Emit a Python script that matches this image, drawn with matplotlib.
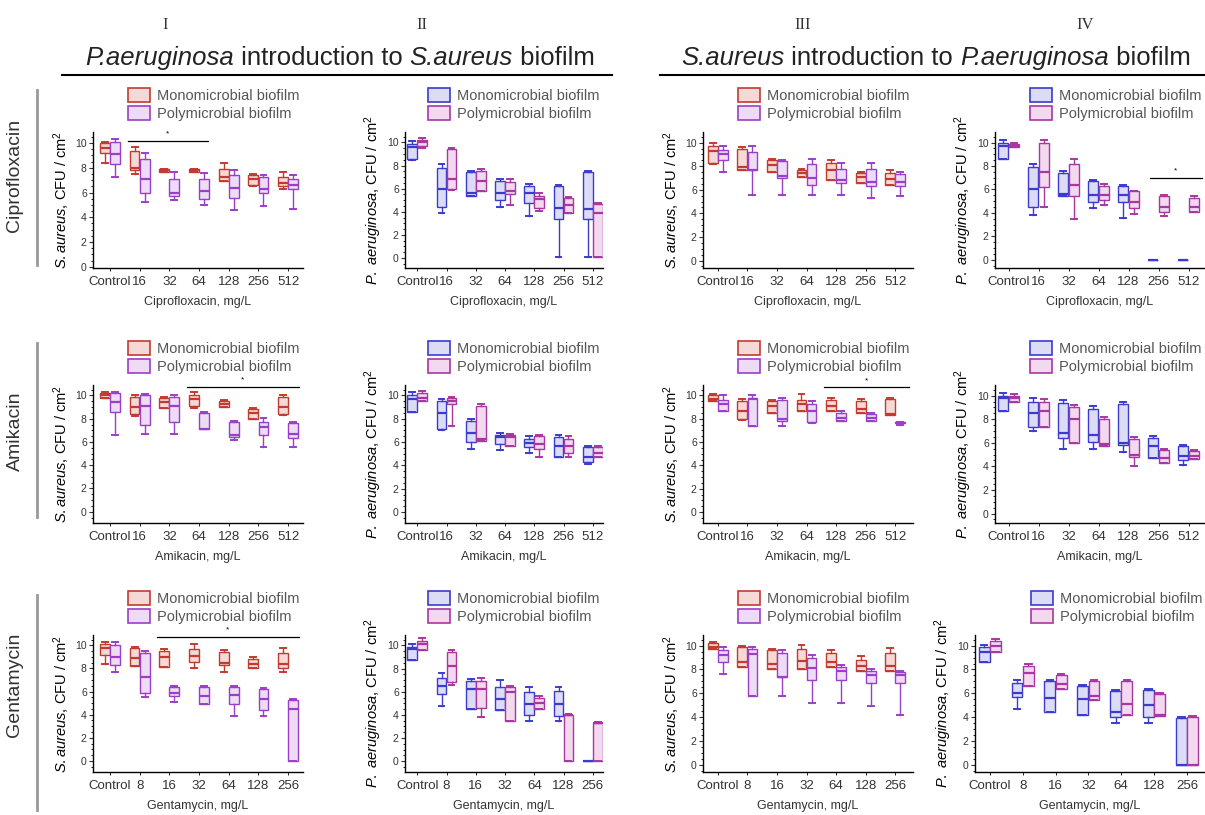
import matplotlib
matplotlib.use("Agg")
import matplotlib.pyplot as plt
from matplotlib.patches import Patch
from matplotlib.ticker import MultipleLocator

plt.rcParams['font.family'] = ['Liberation Sans', 'DejaVu Sans']
plt.rcParams['mathtext.fontset'] = 'custom'
plt.rcParams['mathtext.rm'] = 'Liberation Sans'
plt.rcParams['mathtext.it'] = 'Liberation Sans:italic'

# ---------------- data: [min, q1, median, q3, max] per concentration ----------------
cats_cip = ["Control", "16", "32", "64", "128", "256", "512"]
cats_ami = ["Control", "16", "32", "64", "128", "256", "512"]
cats_gen = ["Control", "8", "16", "32", "64", "128", "256"]

# Ciprofloxacin
cip_I_mono = [[8.4, 9.2, 9.6, 10.0, 10.1], [7.5, 7.8, 8.0, 9.4, 9.7], [7.7, 7.7, 7.8, 7.9, 7.9],
              [7.7, 7.7, 7.8, 7.9, 7.9], [6.9, 6.9, 7.3, 7.9, 8.4], [6.5, 6.6, 7.1, 7.4, 7.5],
              [6.3, 6.5, 6.8, 7.3, 7.7]]
cip_I_poly = [[7.3, 8.3, 9.1, 10.1, 10.3], [5.2, 6.0, 7.1, 8.7, 9.2], [5.4, 5.7, 6.0, 7.1, 7.7],
              [5.0, 5.5, 6.1, 7.1, 7.6], [4.6, 5.6, 6.4, 7.4, 7.8], [4.9, 6.0, 6.3, 7.3, 7.4],
              [4.7, 6.3, 6.6, 7.1, 7.4]]
cip_II_mono = [[8.5, 8.6, 9.6, 9.9, 10.1], [3.9, 4.4, 6.0, 7.8, 8.1], [5.4, 5.4, 5.6, 7.4, 7.5],
               [4.4, 5.0, 5.6, 6.7, 6.8], [3.6, 4.8, 5.6, 6.2, 6.4], [0.1, 3.4, 4.3, 6.2, 6.3],
               [0.1, 3.4, 4.2, 7.4, 7.5]]
cip_II_poly = [[9.5, 9.7, 10.0, 10.2, 10.4], [5.9, 6.0, 6.8, 9.4, 9.5], [5.8, 5.8, 6.7, 7.5, 7.7],
               [4.6, 5.5, 5.8, 6.6, 6.8], [4.1, 4.3, 5.1, 5.4, 5.6], [3.9, 3.9, 4.6, 5.2, 5.3],
               [0.1, 0.1, 3.9, 4.7, 4.8]]
cip_III_mono = [[8.2, 8.3, 9.3, 9.7, 10.0], [7.7, 7.7, 7.9, 9.5, 9.6], [7.5, 7.5, 8.1, 8.5, 8.6],
                [7.1, 7.1, 7.4, 7.7, 7.8], [6.8, 6.8, 7.7, 8.3, 8.5], [6.6, 6.6, 7.1, 7.4, 7.5],
                [6.4, 6.4, 6.9, 7.4, 7.7]]
cip_III_poly = [[7.5, 8.5, 9.0, 9.4, 9.7], [5.6, 7.7, 7.7, 9.2, 9.7], [5.6, 7.0, 7.2, 8.4, 8.5],
                [5.6, 6.4, 7.0, 8.2, 8.6], [5.6, 6.6, 6.8, 7.8, 8.3], [5.3, 6.3, 6.7, 7.8, 8.3],
                [5.5, 6.3, 6.7, 7.3, 7.5]]
cip_IV_mono = [[8.6, 8.6, 9.7, 10.0, 10.2], [3.8, 4.5, 6.0, 7.9, 8.2], [5.4, 5.4, 5.6, 7.4, 7.6],
               [4.4, 4.9, 5.5, 6.7, 6.8], [3.6, 4.9, 5.5, 6.3, 6.4], [0.0, 0.0, 0.0, 0.0, 0.0],
               [0.0, 0.0, 0.0, 0.0, 0.0]]
cip_IV_poly = [[9.6, 9.6, 9.7, 9.9, 10.0], [4.5, 6.2, 7.5, 10.0, 10.2], [3.5, 5.4, 6.4, 8.2, 8.6],
               [4.7, 5.1, 5.5, 6.3, 6.5], [3.9, 4.4, 4.9, 5.9, 5.9], [3.7, 4.1, 4.5, 5.4, 5.5],
               [4.1, 4.1, 4.5, 5.3, 5.4]]

# Amikacin
ami_I_mono = [[9.8, 9.8, 10.0, 10.2, 10.3], [8.2, 8.4, 9.0, 9.9, 10.0], [8.9, 8.9, 9.4, 9.8, 9.9],
              [8.9, 9.1, 9.7, 10.0, 10.3], [9.0, 9.0, 9.3, 9.5, 9.6], [8.0, 8.0, 8.5, 8.8, 8.9],
              [8.3, 8.4, 9.0, 9.9, 10.0]]
ami_I_poly = [[6.6, 8.6, 9.4, 10.2, 10.3], [6.7, 7.5, 9.1, 10.0, 10.1], [6.7, 7.7, 9.1, 9.9, 10.0],
              [7.1, 7.1, 7.1, 8.5, 8.6], [6.2, 6.4, 6.6, 7.7, 7.8], [5.6, 6.6, 7.3, 7.7, 8.1],
              [5.6, 6.3, 6.7, 7.6, 7.7]]
ami_II_mono = [[8.6, 8.6, 9.7, 10.0, 10.3], [7.0, 7.1, 8.5, 9.5, 9.7], [5.4, 6.0, 6.8, 7.8, 8.0],
               [5.3, 5.8, 6.4, 6.6, 6.8], [5.1, 5.6, 5.9, 6.3, 6.5], [4.7, 4.7, 5.7, 6.4, 6.6],
               [4.1, 4.3, 4.7, 5.6, 5.7]]
ami_II_poly = [[9.5, 9.5, 9.8, 10.2, 10.4], [7.4, 9.3, 9.5, 9.8, 9.9], [6.1, 6.1, 6.3, 9.1, 9.3],
               [5.7, 5.7, 6.4, 6.6, 6.7], [4.7, 5.4, 5.8, 6.5, 6.6], [4.7, 5.1, 5.7, 6.3, 6.5],
               [4.7, 4.7, 5.1, 5.6, 5.7]]
ami_III_mono = [[9.5, 9.5, 9.7, 10.0, 10.1], [7.9, 8.0, 8.7, 9.5, 9.7], [8.5, 8.5, 9.1, 9.5, 9.6],
                [8.7, 8.7, 9.3, 9.6, 10.1], [8.7, 8.7, 9.1, 9.6, 9.8], [8.5, 8.5, 8.8, 9.5, 9.7],
                [8.3, 8.3, 8.4, 9.7, 9.8]]
ami_III_poly = [[8.7, 8.7, 9.3, 9.6, 10.0], [7.4, 7.4, 9.7, 9.8, 10.0], [7.4, 7.8, 8.0, 9.6, 9.8],
                [7.6, 7.7, 8.7, 9.3, 9.5], [7.8, 7.8, 8.1, 8.5, 8.7], [7.8, 7.8, 8.1, 8.4, 8.5],
                [7.5, 7.6, 7.6, 7.7, 7.7]]
ami_IV_mono = [[8.7, 8.7, 9.8, 10.0, 10.2], [7.0, 7.3, 8.5, 9.5, 9.8], [5.5, 6.4, 6.8, 9.4, 9.6],
               [5.5, 6.1, 6.7, 8.9, 9.1], [5.2, 5.8, 6.0, 9.3, 9.5], [4.7, 4.7, 5.7, 6.4, 6.6],
               [4.1, 4.5, 4.9, 5.7, 5.8]]
ami_IV_poly = [[9.5, 9.5, 9.8, 10.0, 10.1], [7.3, 7.3, 8.7, 9.5, 9.7], [6.0, 6.0, 8.0, 9.0, 9.2],
               [5.7, 5.7, 5.9, 8.0, 8.2], [4.0, 4.8, 5.0, 6.3, 6.5], [4.3, 4.3, 4.7, 5.4, 5.5],
               [4.6, 4.6, 4.9, 5.3, 5.4]]

# Gentamycin
gen_I_mono = [[8.4, 9.2, 9.8, 10.1, 10.3], [8.2, 8.2, 8.9, 9.8, 9.9], [8.1, 8.1, 9.0, 9.5, 9.7],
              [8.0, 8.6, 9.1, 9.7, 10.1], [7.7, 8.3, 8.5, 9.4, 9.6], [8.0, 8.0, 8.4, 8.8, 9.0],
              [7.7, 8.0, 8.4, 9.3, 9.8]]
gen_I_poly = [[7.7, 8.3, 9.0, 10.0, 10.3], [5.5, 5.9, 7.3, 9.3, 9.5], [5.1, 5.6, 5.9, 6.4, 6.5],
              [4.9, 4.9, 5.6, 6.4, 6.5], [3.9, 4.9, 5.7, 6.4, 6.5], [3.9, 4.4, 5.4, 6.2, 6.3],
              [0.0, 0.0, 4.5, 5.3, 5.4]]
gen_II_mono = [[8.7, 8.7, 9.7, 9.9, 10.1], [4.8, 5.8, 6.5, 7.2, 7.6], [4.5, 4.5, 6.2, 6.9, 7.1],
               [4.4, 4.4, 5.4, 6.4, 7.0], [3.5, 4.0, 4.9, 6.0, 6.4], [3.5, 3.9, 4.9, 6.1, 6.4],
               [0.0, 0.0, 0.0, 0.0, 0.0]]
gen_II_poly = [[9.6, 9.6, 10.1, 10.4, 10.6], [6.6, 6.8, 8.2, 9.4, 9.6], [3.8, 4.6, 6.2, 6.9, 7.2],
               [3.5, 3.5, 6.0, 6.4, 6.5], [4.5, 4.5, 5.0, 5.5, 5.6], [0.0, 0.0, 4.0, 4.0, 4.1],
               [0.0, 0.0, 3.3, 3.3, 3.4]]
gen_III_mono = [[9.7, 9.7, 9.9, 10.2, 10.3], [8.2, 8.2, 8.6, 9.9, 10.0], [8.0, 8.0, 8.5, 9.6, 9.7],
                [8.0, 8.0, 8.7, 9.7, 10.1], [8.2, 8.2, 8.6, 9.4, 9.6], [7.9, 7.9, 8.3, 8.8, 9.1],
                [7.9, 7.9, 8.3, 9.4, 9.8]]
gen_III_poly = [[7.6, 8.6, 9.2, 9.6, 9.9], [5.8, 5.8, 9.3, 9.7, 9.9], [5.8, 7.4, 7.4, 9.4, 9.6],
                [5.2, 7.1, 8.1, 9.0, 9.2], [5.2, 7.1, 7.9, 8.2, 8.4], [4.9, 6.9, 7.5, 7.9, 8.0],
                [4.2, 6.9, 7.5, 7.8, 7.9]]
gen_IV_mono = [[8.6, 8.6, 9.5, 9.9, 10.1], [4.7, 5.7, 6.0, 6.9, 7.1], [4.4, 4.4, 5.6, 7.0, 7.1],
               [4.2, 4.2, 5.5, 6.6, 6.7], [3.5, 4.0, 4.4, 6.2, 6.3], [3.5, 4.0, 5.0, 6.3, 6.4],
               [0.0, 0.0, 0.0, 3.9, 4.0]]
gen_IV_poly = [[9.5, 9.5, 10.0, 10.4, 10.6], [6.6, 6.6, 7.7, 8.3, 8.5], [6.4, 6.4, 6.8, 7.5, 7.6],
               [5.4, 5.4, 5.8, 7.0, 7.1], [4.2, 4.2, 5.1, 7.0, 7.1], [4.1, 4.1, 4.2, 5.9, 6.0],
               [0.0, 0.0, 0.0, 4.0, 4.1]]

row_names = ["Ciprofloxacin", "Amikacin", "Gentamycin"]
xlabels = ["Ciprofloxacin, mg/L", "Amikacin, mg/L", "Gentamycin, mg/L"]
row_cats = [cats_cip, cats_ami, cats_gen]
panels = [
    [(cip_I_mono, cip_I_poly), (cip_II_mono, cip_II_poly), (cip_III_mono, cip_III_poly), (cip_IV_mono, cip_IV_poly)],
    [(ami_I_mono, ami_I_poly), (ami_II_mono, ami_II_poly), (ami_III_mono, ami_III_poly), (ami_IV_mono, ami_IV_poly)],
    [(gen_I_mono, gen_I_poly), (gen_II_mono, gen_II_poly), (gen_III_mono, gen_III_poly), (gen_IV_mono, gen_IV_poly)],
]
# significance bars: (row, col) -> (x_start, x_end, y)
sig_bars = {(0, 0): (0.6, 3.3, 10.2), (0, 3): (4.7, 6.45, 7.0),
            (1, 0): (2.6, 6.35, 10.75), (1, 2): (3.6, 6.45, 10.7),
            (2, 0): (1.6, 6.35, 10.75)}

# ---------------- styling ----------------
W, H = 1205, 815
RED, PURPLE, BLUE, MAGENTA = "#c23b32", "#9a3fc8", "#3b3bd0", "#a8379f"
FILL = {RED: "#f5d9d6", PURPLE: "#eedcf7", BLUE: "#dcdcf7", MAGENTA: "#f3d9ef"}
col_colors = [(RED, PURPLE), (BLUE, MAGENTA), (RED, PURPLE), (BLUE, MAGENTA)]
col_sa = [True, False, True, False]
col_x = [(93, 303), (405, 603), (703, 913), (995, 1205)]
col_xlim = [(-0.57, 6.5), (-0.42, 6.35), (-0.5, 6.6), (-0.45, 6.55)]
row_y = [(132, 268), (385, 523), (635, 772)]
ybottom = [[-0.1, -0.86, -0.63, -0.7], [-0.97, -0.94, -0.94, -0.8], [-0.96, -0.93, -0.62, -0.62]]
row_label_y = [175, 431, 685]
row_sep = [(90, 265), (343, 517), (595, 810)]

fig = plt.figure(figsize=(W / 100, H / 100), dpi=100)
renderer = fig.canvas.get_renderer()


def rect(x0, x1, yt, yb):
    return [x0 / W, 1 - yb / H, (x1 - x0) / W, (yb - yt) / H]


def draw_boxes(ax, data, offset, color):
    stats = [dict(whislo=d[0], q1=d[1], med=d[2], q3=d[3], whishi=d[4]) for d in data]
    pos = [i + offset for i in range(len(data))]
    ax.bxp(stats, positions=pos, widths=0.33, showfliers=False, patch_artist=True,
           boxprops=dict(facecolor=FILL[color], edgecolor=color, linewidth=1.0),
           medianprops=dict(color=color, linewidth=1.6),
           whiskerprops=dict(color=color, linewidth=1.0),
           capprops=dict(color=color, linewidth=1.4), capwidths=0.2,
           manage_ticks=False)


def mixed_title(xc, y, pieces, size):
    """Draw a horizontal line of text made of (string, style) pieces centred at xc (pixels)."""
    widths = []
    for s, st in pieces:
        t = fig.text(0, 0, s, fontsize=size, style=st)
        widths.append(t.get_window_extent(renderer).width)
        t.remove()
    x = xc - sum(widths) / 2
    for (s, st), w in zip(pieces, widths):
        fig.text(x / W, 1 - y / H, s, fontsize=size, style=st, ha="left", va="center",
                 color="#222222")
        x += w


for r in range(3):
    for c in range(4):
        x0, x1 = col_x[c]
        if r == 2 and c == 3:
            x0 = 975
        yt, yb = row_y[r]
        ax = fig.add_axes(rect(x0, x1, yt, yb))
        mono, poly = panels[r][c]
        cm, cp = col_colors[c]
        draw_boxes(ax, mono, -0.17, cm)
        draw_boxes(ax, poly, 0.17, cp)
        cats = row_cats[r]
        ax.set_xticks(range(len(cats)))
        ax.set_xticklabels(cats, fontsize=9.5, color="#333333")
        ax.set_xlim(*col_xlim[c])
        ax.set_ylim(ybottom[r][c], 10.9)
        ax.set_yticks([0, 2, 4, 6, 8, 10])
        ax.yaxis.set_minor_locator(MultipleLocator(0.5))
        ax.tick_params(axis='y', labelsize=7.5, length=3, width=0.8, pad=1.5, colors="#333333")
        ax.tick_params(axis='y', which='minor', length=1.5, width=0.6)
        ax.tick_params(axis='x', length=2.5, width=0.6, pad=3)
        for s in ("top", "right"):
            ax.spines[s].set_visible(False)
        for s in ("left", "bottom"):
            ax.spines[s].set_linewidth(1.0)
        ax.set_xlabel(xlabels[r], fontsize=9, color="#333333", labelpad=6)
        if col_sa[c]:
            ax.set_ylabel(r"$\mathit{S{.}aureus}$, CFU / cm$^2$", fontsize=10.5, labelpad=2)
        else:
            ax.set_ylabel(r"$\mathit{P{.}\ aeruginosa}$, CFU / cm$^2$", fontsize=10.5, labelpad=2)
        handles = [Patch(facecolor=FILL[cm], edgecolor=cm, linewidth=1.2),
                   Patch(facecolor=FILL[cp], edgecolor=cp, linewidth=1.2)]
        ax.legend(handles, ["Monomicrobial biofilm", "Polymicrobial biofilm"],
                  loc="lower right", bbox_to_anchor=(1.02, 1.025), frameon=False,
                  fontsize=10.5, handlelength=1.5, handleheight=1.1, labelspacing=0.2,
                  handletextpad=0.5, borderpad=0, labelcolor="#555555")
        if (r, c) in sig_bars:
            xs, xe, yy = sig_bars[(r, c)]
            ax.plot([xs, xe], [yy, yy], color="black", lw=0.9, clip_on=False)
            ax.text((xs + xe) / 2, yy + 0.25, "*", ha="center", va="bottom", fontsize=6)

# row labels and separators
for r, name in enumerate(row_names):
    fig.text(15 / W, 1 - row_label_y[r] / H, name, rotation=90, ha="center", va="center",
             fontsize=14, color="#333333")
    s0, s1 = row_sep[r]
    fig.add_artist(plt.Line2D([37 / W, 37 / W], [1 - s0 / H, 1 - s1 / H],
                              color="#999999", lw=2))

# column numerals
for x, t in [(165, "I"), (422, "II"), (803, "III"), (1085, "IV")]:
    fig.text(x / W, 1 - 25 / H, t, ha="center", va="center", fontsize=12,
             family="Liberation Serif", color="#333333")

mixed_title(340, 58, [("P.aeruginosa", "italic"), (" introduction to ", "normal"),
                      ("S.aureus", "italic"), (" biofilm", "normal")], 18.5)
mixed_title(936, 58, [("S.aureus", "italic"), (" introduction to ", "normal"),
                      ("P.aeruginosa", "italic"), (" biofilm", "normal")], 18.5)
fig.add_artist(plt.Line2D([62 / W, 612 / W], [1 - 75 / H, 1 - 75 / H], color="black", lw=1.5))
fig.add_artist(plt.Line2D([660 / W, 1205 / W], [1 - 75 / H, 1 - 75 / H], color="black", lw=1.5))

fig.savefig("out.png", dpi=100)
